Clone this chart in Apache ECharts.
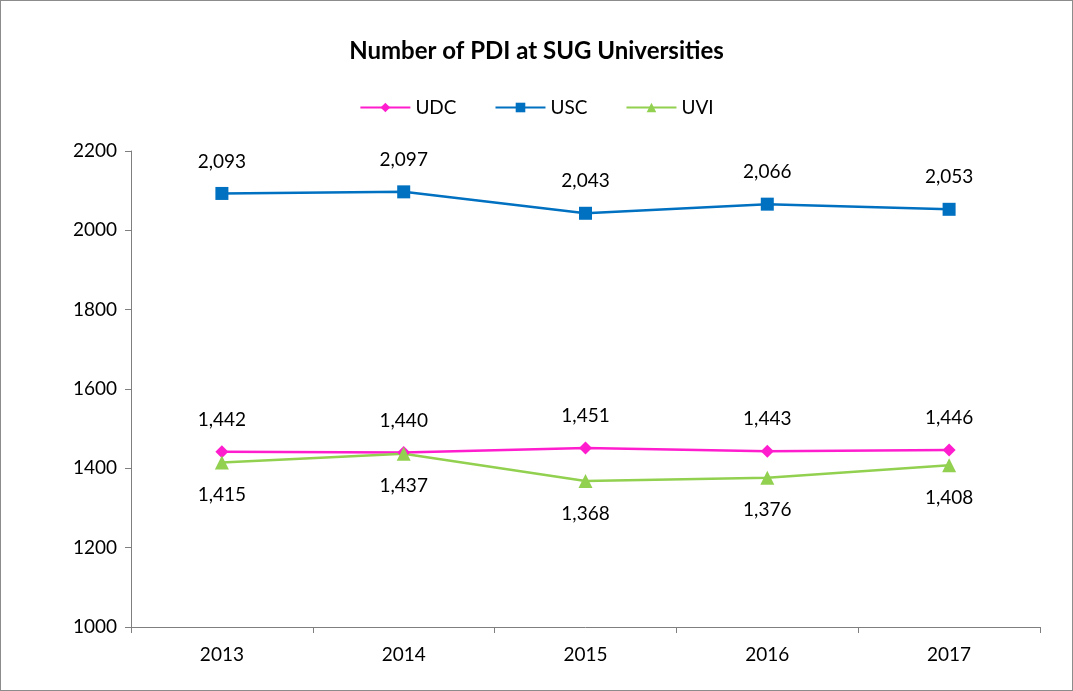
<!DOCTYPE html>
<html>
<head>
<meta charset="utf-8">
<script src="https://cdn.jsdelivr.net/npm/echarts@6/dist/echarts.min.js"></script>
<style>
  html, body { margin: 0; padding: 0; background: #fff; }
  #chart { width: 1071px; height: 689px; border: 1px solid #8c8c8c; }
</style>
</head>
<body>
<div id="chart"></div>
<script>
// 数据
var years = ['2013', '2014', '2015', '2016', '2017'];
var udc = [1442, 1440, 1451, 1443, 1446];
var usc = [2093, 2097, 2043, 2066, 2053];
var uvi = [1415, 1437, 1368, 1376, 1408];

var font = 'Lato, "Open Sans", sans-serif';

var myChart = echarts.init(document.getElementById('chart'));

function fmt(p) {
    return p.value.toLocaleString('en-US');
}

var option = {
    animation: false,
    title: {
        left: 'center',
        top: 33,
        text: 'Number of PDI at SUG Universities',
        textStyle: { fontFamily: font, fontSize: 24, fontWeight: 'bold', color: '#000' }
    },
    legend: {
        top: 92,
        left: 'center',
        itemWidth: 50,
        itemHeight: 12,
        itemGap: 38,
        textStyle: { fontFamily: font, fontSize: 19, color: '#000' },
        data: ['UDC', 'USC', 'UVI']
    },
    grid: { left: 130, right: 32, top: 150, bottom: 63 },
    xAxis: {
        type: 'category',
        data: years,
        boundaryGap: true,
        axisLine: { lineStyle: { color: '#7f7f7f' } },
        axisTick: { show: true, length: 6, lineStyle: { color: '#7f7f7f' } },
        axisLabel: { fontFamily: font, fontSize: 19, color: '#000', margin: 18 }
    },
    yAxis: {
        type: 'value',
        min: 1000,
        max: 2200,
        interval: 200,
        splitLine: { show: false },
        axisLine: { show: true, lineStyle: { color: '#7f7f7f' } },
        axisTick: { show: true, length: 6, lineStyle: { color: '#7f7f7f' } },
        axisLabel: {
            fontFamily: font, fontSize: 19, color: '#000', margin: 14,
            formatter: function (v) { return String(v); }
        }
    },
    series: [{
        name: 'UDC',
        type: 'line',
        data: udc,
        symbol: 'diamond',
        symbolSize: 13,
        itemStyle: { color: '#ff1dce' },
        lineStyle: { width: 2.5, color: '#ff1dce' },
        label: { show: true, position: 'top', distance: 16, formatter: fmt, fontFamily: font, fontSize: 19, color: '#000' }
    }, {
        name: 'USC',
        type: 'line',
        data: usc,
        symbol: 'rect',
        symbolSize: 13,
        itemStyle: { color: '#0070c0' },
        lineStyle: { width: 2.5, color: '#0070c0' },
        label: { show: true, position: 'top', distance: 16, formatter: fmt, fontFamily: font, fontSize: 19, color: '#000' }
    }, {
        name: 'UVI',
        type: 'line',
        data: uvi,
        symbol: 'triangle',
        symbolSize: 14,
        itemStyle: { color: '#92d050' },
        lineStyle: { width: 2.5, color: '#92d050' },
        label: { show: true, position: 'bottom', distance: 16, formatter: fmt, fontFamily: font, fontSize: 19, color: '#000' }
    }]
};

myChart.setOption(option);
</script>
</body>
</html>
